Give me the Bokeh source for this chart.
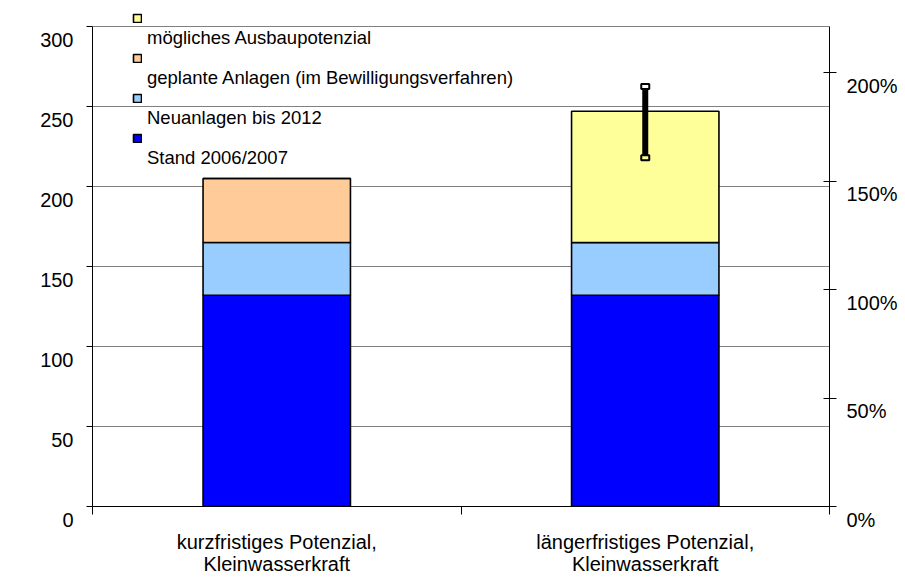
from bokeh.plotting import figure
from bokeh.models import (Range1d, LinearAxis, FixedTicker,
                          Legend, LegendItem, Label, ColumnDataSource)
from bokeh.embed import file_html
from bokeh.resources import INLINE

# ---- data ----
categories = ["kurzfristiges Potenzial,\nKleinwasserkraft",
              "längerfristiges Potenzial,\nKleinwasserkraft"]
stand_2006_2007 = [132, 132]
neuanlagen_2012 = [33, 33]
geplante_anlagen = [40, 0]
moegliches_ausbau = [0, 82]
series_names = ["Stand 2006/2007", "Neuanlagen bis 2012",
                "geplante Anlagen (im Bewilligungsverfahren)", "mögliches Ausbaupotenzial"]
series_colors = ["#0000FF", "#99CCFF", "#FFCC99", "#FFFF99"]
err_index = [1]
err_lower = [218]
err_upper = [262.5]
y_ticks = [0, 50, 100, 150, 200, 250, 300]
y_tick_labels = ["0", "50", "100", "150", "200", "250", "300"]
y_max = 300
pct_ticks = [0, 0.5, 1.0, 1.5, 2.0]
pct_tick_labels = ["0%", "50%", "100%", "150%", "200%"]
pct_max = 2.212          # right-axis value level with y_max
y_axis_title = "Stromproduktion [GWh/a]"

FONT = "Liberation Sans"

n = len(categories)
x_centers = [i + 0.5 for i in range(n)]
x_edges = list(range(n + 1))
y_view_top = y_max + 10   # a little headroom above the axes for the legend

p = figure(x_range=Range1d(0, n), y_range=Range1d(0, y_view_top),
           width=900, height=578, output_backend="svg", toolbar_location=None,
           x_axis_location=None, y_axis_location=None,
           min_border_left=92, min_border_right=71, min_border_top=10, min_border_bottom=72)
p.outline_line_color = None
p.background_fill_color = "white"
p.border_fill_color = "white"
p.xgrid.visible = False

p.extra_y_ranges = {"pct": Range1d(0, pct_max * y_view_top / y_max)}

src = ColumnDataSource(dict(x=x_centers, s0=stand_2006_2007, s1=neuanlagen_2012,
                            s2=geplante_anlagen, s3=moegliches_ausbau))
renderers = p.vbar_stack(["s0", "s1", "s2", "s3"], x="x", width=0.4, source=src,
                         color=series_colors, line_color="black", line_width=1.6)

# error bar
ex = [x_centers[i] for i in err_index]
p.segment(x0=ex, y0=err_lower, x1=ex, y1=err_upper, line_color="black", line_width=6)
p.rect(x=ex * 2, y=err_upper + err_lower, width=8, height=5,
       width_units="screen", height_units="screen",
       fill_color=["white", series_colors[3]], line_color="black", line_width=2)

# grid
p.ygrid.ticker = FixedTicker(ticks=y_ticks)
p.ygrid.grid_line_color = "#808080"
p.ygrid.grid_line_width = 1

# left axis (labels sit below their ticks, as in the original)
yl = LinearAxis(ticker=FixedTicker(ticks=y_ticks), bounds=(0, y_max))
yl.major_label_overrides = {t: "\n" + s for t, s in zip(y_ticks, y_tick_labels)}
yl.axis_line_color = "black"
yl.major_tick_out = 6
yl.major_tick_in = 0
yl.minor_tick_line_color = None
yl.major_label_text_font = FONT
yl.major_label_text_font_size = "20px"
yl.major_label_text_color = "black"
yl.major_label_text_baseline = "middle"
yl.major_label_standoff = 13
p.add_layout(yl, "left")

# right axis
yr = LinearAxis(y_range_name="pct", ticker=FixedTicker(ticks=pct_ticks), bounds=(0, pct_max))
yr.major_label_overrides = {t: "\n" + s for t, s in zip(pct_ticks, pct_tick_labels)}
yr.axis_line_color = "black"
yr.major_tick_out = 7
yr.major_tick_in = 6
yr.minor_tick_line_color = None
yr.major_label_text_font = FONT
yr.major_label_text_font_size = "20px"
yr.major_label_text_color = "black"
yr.major_label_text_baseline = "middle"
yr.major_label_standoff = 10
p.add_layout(yr, "right")

# bottom axis: labels at category centres, tick marks at category edges
xb = LinearAxis(ticker=FixedTicker(ticks=x_centers, minor_ticks=x_edges))
xb.major_label_overrides = {x_centers[i]: categories[i] for i in range(n)}
xb.axis_line_color = "black"
xb.major_tick_line_color = None
xb.major_tick_out = 0
xb.major_tick_in = 0
xb.minor_tick_line_color = "black"
xb.minor_tick_out = 8
xb.minor_tick_in = 0
xb.major_label_text_font = FONT
xb.major_label_text_font_size = "20px"
xb.major_label_text_color = "black"
xb.major_label_text_line_height = 1.0
xb.major_label_standoff = 16
p.add_layout(xb, "below")

# legend: marker squares (one legend) with their texts just below (second legend)
order = [3, 2, 1, 0]
marker_legend = Legend(items=[LegendItem(label="", renderers=[renderers[i]]) for i in order],
                       location=(40, 363), orientation="vertical")
marker_legend.glyph_width = 10
marker_legend.glyph_height = 10
marker_legend.label_height = 10
marker_legend.label_width = 0
marker_legend.label_standoff = 0
marker_legend.label_text_font_size = "1px"
marker_legend.spacing = 30
marker_legend.padding = 0
marker_legend.margin = 0
marker_legend.border_line_color = None
marker_legend.background_fill_alpha = 0
p.add_layout(marker_legend)

# invisible stand-in renderer so the text-only legend draws no marker of its own
blank = p.scatter(x=[], y=[], size=1, fill_alpha=0, line_alpha=0)
text_legend = Legend(items=[LegendItem(label=series_names[i], renderers=[blank]) for i in order],
                     location=(54, 337), orientation="vertical")
text_legend.glyph_width = 1
text_legend.glyph_height = 1
text_legend.label_standoff = 0
text_legend.label_text_font = FONT
text_legend.label_text_font_size = "18.5px"
text_legend.label_text_color = "black"
text_legend.spacing = 18
text_legend.padding = 0
text_legend.margin = 0
text_legend.border_line_color = None
text_legend.background_fill_alpha = 0
p.add_layout(text_legend)

# tiny axis title
p.add_layout(Label(x=-84, y=71, x_units="screen", y_units="data", text=y_axis_title,
                   text_font=FONT, text_font_size="3px", text_color="#555555",
                   text_baseline="middle"))

open("out.html", "w").write(file_html(p, INLINE))
